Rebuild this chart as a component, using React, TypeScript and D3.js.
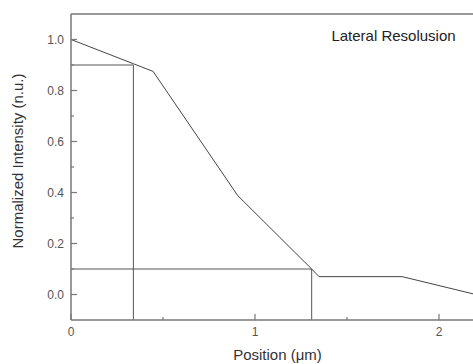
import React from "react";
import * as d3 from "d3";

const W = 473;
const H = 364;

const xs = [0, 0.339, 0.446, 0.906, 1.308, 1.348, 1.8, 2.2];
const ys = [1.0, 0.905, 0.875, 0.388, 0.1, 0.07, 0.07, 0.0];

const refX = [0.339, 1.308];
const refY = [0.9, 0.1];

const yTicks = [0.0, 0.2, 0.4, 0.6, 0.8, 1.0];
const yMinor = [0.1, 0.3, 0.5, 0.7, 0.9];
const xTicks = [0, 1, 2];
const xMinor = [0.5, 1.5];

const title = "Lateral Resolusion";
const xLabel = "Position (\u03bcm)";
const yLabel = "Normalized Intensity (n.u.)";

export default function App() {
  const left = 71, right = 473, top = 14, bottom = 320;
  const x = d3.scaleLinear().domain([0, (right - left) / 184]).range([left, right]);
  const y = d3.scaleLinear().domain([-0.1, 1.1]).range([bottom, top]);
  const line = d3.line<number>().x((_, i) => x(xs[i])).y((d) => y(d));
  const axisColor = "#777";
  const font = "Liberation Sans, Arial, sans-serif";
  return (
    <svg width={W} height={H} style={{ position: "fixed", left: 0, top: 0, background: "#fff" }}>
      <defs>
        <clipPath id="clip">
          <rect x={left} y={top} width={right - left} height={bottom - top} />
        </clipPath>
      </defs>
      <g clipPath="url(#clip)">
        <line x1={x(0)} x2={x(refX[0])} y1={y(refY[0])} y2={y(refY[0])} stroke="#555" strokeWidth={1} />
        <line x1={x(refX[0])} x2={x(refX[0])} y1={y(refY[0])} y2={bottom} stroke="#555" strokeWidth={1} />
        <line x1={x(0)} x2={x(refX[1])} y1={y(refY[1])} y2={y(refY[1])} stroke="#555" strokeWidth={1} />
        <line x1={x(refX[1])} x2={x(refX[1])} y1={y(refY[1])} y2={bottom} stroke="#555" strokeWidth={1} />
        <path d={line(ys) || ""} fill="none" stroke="#444" strokeWidth={1} />
      </g>
      <line x1={left} x2={left} y1={top} y2={bottom} stroke={axisColor} strokeWidth={1.5} />
      <line x1={left} x2={right} y1={bottom} y2={bottom} stroke={axisColor} strokeWidth={1.5} />
      <line x1={left} x2={right} y1={top} y2={top} stroke={axisColor} strokeWidth={1.5} />
      {yTicks.map((t) => (
        <g key={"y" + t}>
          <line x1={left} x2={left + 6} y1={y(t)} y2={y(t)} stroke={axisColor} strokeWidth={1.2} />
          <text x={left - 7} y={y(t)} dy="0.35em" textAnchor="end" fontSize={12} fill="#555" fontFamily={font}>
            {t.toFixed(1)}
          </text>
        </g>
      ))}
      {yMinor.map((t) => (
        <line key={"ym" + t} x1={left} x2={left + 3} y1={y(t)} y2={y(t)} stroke={axisColor} strokeWidth={1.2} />
      ))}
      {xTicks.map((t) => (
        <g key={"x" + t}>
          <line x1={x(t)} x2={x(t)} y1={bottom} y2={bottom - 6} stroke={axisColor} strokeWidth={1.2} />
          <text x={x(t)} y={bottom + 12} dy="0.35em" textAnchor="middle" fontSize={12} fill="#555" fontFamily={font}>
            {t}
          </text>
        </g>
      ))}
      {xMinor.map((t) => (
        <line key={"xm" + t} x1={x(t)} x2={x(t)} y1={bottom} y2={bottom - 3} stroke={axisColor} strokeWidth={1.2} />
      ))}
      <text x={393.5} y={36} dy="0.35em" textAnchor="middle" fontSize={15} fill="#222" fontFamily={font}>
        {title}
      </text>
      <text x={277.5} y={355} dy="0.35em" textAnchor="middle" fontSize={15} fill="#333" fontFamily={font}>
        {xLabel}
      </text>
      <text
        transform={`translate(18,161) rotate(-90)`}
        dy="0.35em"
        textAnchor="middle"
        fontSize={15}
        fill="#333"
        fontFamily={font}
      >
        {yLabel}
      </text>
    </svg>
  );
}
